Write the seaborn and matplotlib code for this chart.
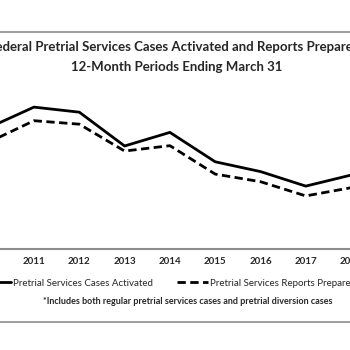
import numpy as np
import pandas as pd
import matplotlib
matplotlib.use("Agg")
from matplotlib import pyplot as plt
from matplotlib.lines import Line2D
import seaborn as sns

# values (approximate)
years = [2010, 2011, 2012, 2013, 2014, 2015, 2016, 2017, 2018]
cases_activated = [106400, 112900, 111300, 100600, 104900, 95600, 92500, 87900, 91400]
reports_prepared = [101800, 108600, 107500, 99000, 100700, 91700, 89300, 84800, 87400]
series_names = ["Pretrial Services Cases Activated", "Pretrial Services Reports Prepared"]

df = pd.DataFrame({
    "year": years * 2,
    "count": cases_activated + reports_prepared,
    "series": [series_names[0]] * len(years) + [series_names[1]] * len(years),
})

sns.set_style("white")
plt.rcParams["font.family"] = ["Lato", "DejaVu Sans"]

W = H = 350
fig = plt.figure(figsize=(3.5, 3.5), dpi=100)

# axes run past the picture edges (the reference is a crop of a wider chart)
ax_left, ax_right, ax_top, ax_bottom = -35, 385, 75, 249
ax = fig.add_axes([ax_left / W, 1 - ax_bottom / H,
                   (ax_right - ax_left) / W, (ax_bottom - ax_top) / H])

sns.lineplot(data=df, x="year", y="count", style="series", ax=ax,
             color="black", linewidth=2.0,
             dashes={series_names[0]: "", series_names[1]: (3, 1.6)},
             legend=True)

ax.set_xlim(2011 + (ax_left - 34) / 45.3, 2011 + (ax_right - 34) / 45.3)
ax.set_ylim(68000, 68000 + (ax_bottom - ax_top) / 0.00316)
ax.set_xticks(years[1:])
ax.set_xticklabels([str(y) for y in years[1:]], fontsize=7, fontweight="bold")
ax.tick_params(axis="x", length=0, pad=6)
ax.set_yticks([])
ax.set_xlabel("")
ax.set_ylabel("")
for s in ["top", "left", "right"]:
    ax.spines[s].set_visible(False)
ax.spines["bottom"].set_color("#8c8c8c")
ax.spines["bottom"].set_linewidth(1.5)

handles, labels = ax.get_legend_handles_labels()
ax.get_legend().remove()
fig.legend(handles, labels, loc="center", bbox_to_anchor=(168 / W, 1 - 283 / H),
           ncol=2, frameon=False, fontsize=7, handlelength=3.2,
           handletextpad=0.2, columnspacing=2.5)

# chart border (top and bottom edges visible in the crop)
for yy in [32, 322]:
    fig.add_artist(Line2D([0, 1], [1 - yy / H, 1 - yy / H], color="#8c8c8c",
                          linewidth=1.2, transform=fig.transFigure))

fig.text(177 / W, 1 - 47 / H,
         "Federal Pretrial Services Cases Activated and Reports Prepared*",
         ha="center", va="center", fontsize=9.5, fontweight="bold")
fig.text(177 / W, 1 - 67 / H, "12-Month Periods Ending March 31",
         ha="center", va="center", fontsize=9.5, fontweight="bold")
fig.text(188 / W, 1 - 302 / H,
         "*Includes both regular pretrial services cases and pretrial diversion cases",
         ha="center", va="center", fontsize=6.5, fontweight="bold")

fig.savefig("out.png", dpi=100)
